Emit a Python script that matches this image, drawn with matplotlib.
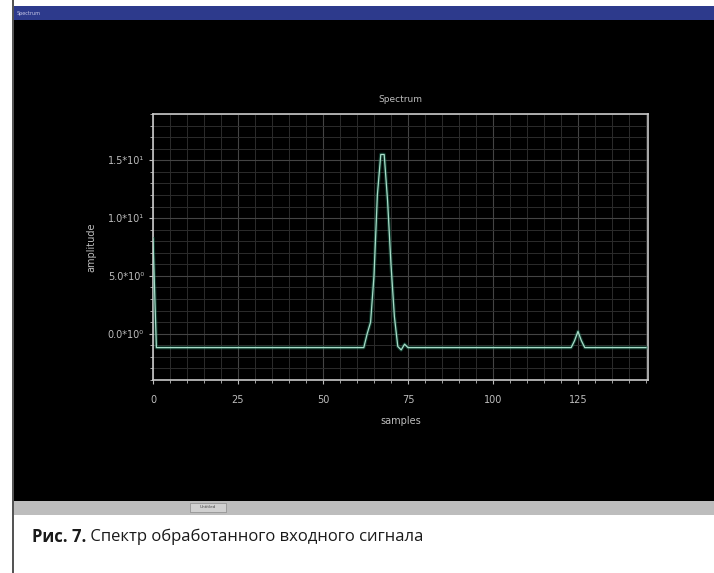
import matplotlib
matplotlib.use("Agg")
import matplotlib.pyplot as plt
from matplotlib.patches import Rectangle
from matplotlib.ticker import MultipleLocator, FixedLocator

# ---- data ----
samples = [0, 1, 62, 63, 64, 65, 66, 67, 68, 69, 70, 71, 72, 73, 74, 75,
           123, 124, 125, 126, 127, 145]
amplitude = [8.2, -1.2, -1.2, 0.0, 1.0, 5.0, 12.0, 15.5, 15.5, 11.5, 6.0, 1.5,
             -1.1, -1.4, -0.9, -1.2, -1.2, -0.6, 0.2, -0.6, -1.2, -1.2]
x_ticks = [0, 25, 50, 75, 100, 125]
x_tick_labels = ["0", "25", "50", "75", "100", "125"]
y_ticks = [0, 5, 10, 15]
y_tick_labels = ["0.0*10⁰", "5.0*10⁰", "1.0*10¹", "1.5*10¹"]
title = "Spectrum"
x_label = "samples"
y_label = "amplitude"
caption_bold = "Рис. 7."
caption_rest = " Спектр обработанного входного сигнала"

W, H = 714, 573
fig = plt.figure(figsize=(W / 100, H / 100), dpi=100)
fig.patch.set_facecolor("white")

def fy(py):
    return 1 - py / H

def fx(px):
    return px / W

# window decorations
fig.patches.append(Rectangle((fx(13), fy(501)), fx(714), fy(20) - fy(501),
                             transform=fig.transFigure, facecolor="black", edgecolor="none", zorder=0))
fig.patches.append(Rectangle((fx(13), fy(20)), fx(714), fy(6) - fy(20),
                             transform=fig.transFigure, facecolor="#2d3a8c", edgecolor="none", zorder=0))
fig.patches.append(Rectangle((fx(13), fy(515)), fx(714), fy(501) - fy(515),
                             transform=fig.transFigure, facecolor="#bdbdbd", edgecolor="none", zorder=0))
fig.patches.append(Rectangle((fx(190), fy(512)), fx(36), fy(503) - fy(512),
                             transform=fig.transFigure, facecolor="#d0d0d0", edgecolor="#8a8a8a",
                             linewidth=0.5, zorder=0))
fig.patches.append(Rectangle((fx(12), 0), fx(1.5), 1,
                             transform=fig.transFigure, facecolor="#555555", edgecolor="none", zorder=1))
fig.text(fx(17), fy(13), "Spectrum", color="#c8c8e8", fontsize=3.5, va="center", ha="left")
fig.text(fx(208), fy(507.5), "Untitled", color="#444444", fontsize=3, va="center", ha="center")

# caption
t = fig.text(fx(32), fy(537), caption_bold, fontsize=12, fontweight="bold",
             family="Open Sans", color="#1a1a1a", va="center", ha="left")
fig.canvas.draw()
bb = t.get_window_extent()
fig.text(bb.x1 / W, fy(537), caption_rest, fontsize=12, family="Open Sans",
         color="#1a1a1a", va="center", ha="left")

# plot
ax = fig.add_axes([fx(153), fy(380), fx(648) - fx(153), fy(114) - fy(380)])
ax.set_zorder(5)
ax.set_facecolor("black")
ax.set_xlim(0, 145.6)
ax.set_ylim(-4, 19)

ax.xaxis.set_major_locator(FixedLocator(x_ticks))
ax.set_xticklabels(x_tick_labels)
ax.xaxis.set_minor_locator(MultipleLocator(5))
ax.yaxis.set_major_locator(FixedLocator(y_ticks))
ax.set_yticklabels(y_tick_labels)
ax.yaxis.set_minor_locator(MultipleLocator(1))

ax.grid(which="major", color="#444444", linewidth=0.8)
ax.grid(which="minor", color="#2c2c2c", linewidth=0.7)
ax.set_axisbelow(True)

for s in ax.spines.values():
    s.set_color("#c8c8c8")
    s.set_linewidth(1.2)

ax.tick_params(which="both", colors="#bdbdbd", direction="out", labelsize=7)
ax.tick_params(which="major", length=3)
ax.tick_params(which="minor", length=2)
ax.tick_params(axis="x", which="major", pad=8)

# glow + line
ax.plot(samples, amplitude, color="#1f7a5c", linewidth=2.5, alpha=0.45, zorder=3)
ax.plot(samples, amplitude, color="#a8dcc8", linewidth=0.9, zorder=4)

ax.set_title(title, color="#bdbdbd", fontsize=6.5, pad=9)
ax.set_xlabel(x_label, color="#bdbdbd", fontsize=7, labelpad=8)
ax.set_ylabel(y_label, color="#bdbdbd", fontsize=7, labelpad=8)

fig.savefig("out.png", dpi=100, facecolor=fig.get_facecolor())
